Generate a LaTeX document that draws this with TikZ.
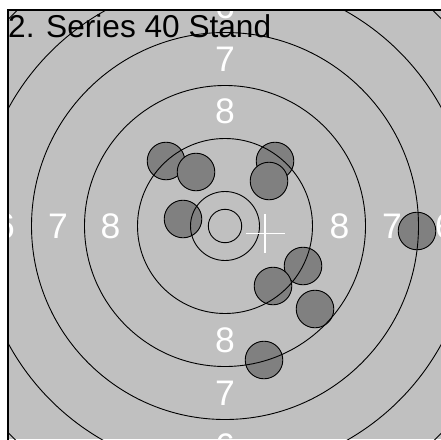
\documentclass[tikz,border=0pt]{standalone}
\usepackage{fontspec}
\setmainfont{Liberation Sans}
\usepackage{tikz}
\usetikzlibrary{calc}
\definecolor{target}{HTML}{C0C0C0}
\definecolor{hole}{HTML}{808080}
\tikzset{
  ring/.style={draw=black, line width=0.9pt},
  shot/.style={draw=black, fill=hole, line width=0.9pt},
  score/.style={font=\fontsize{35.5}{36}\selectfont, text=white, inner sep=0pt},
  heading/.style={font=\fontsize{31.6}{36}\selectfont, inner sep=0pt, anchor=base west},
}
\begin{document}
\begin{tikzpicture}[x=1pt, y=-1pt]
  \useasboundingbox (0,0) rectangle (441,439);
  \fill[target] (8,10) rectangle (441,439);
  \coordinate (c) at (225,226);
  \begin{scope}
    \clip (8,10) rectangle (441,439);
    % ring numbers
    \foreach \r/\n in {114.5/8, 167/7, 220/6}
      { \node[score] (top\n) at ($(c)+(0,-\r)$) {\n};
        \node[score] (bot\n) at ($(c)+(0,\r)$) {\n};
        \node[score] (lft\n) at ($(c)+(-\r,0)$) {\n};
        \node[score] (rgt\n) at ($(c)+(\r,0)$) {\n}; }
    % hits
    \foreach \x/\y in {166/161, 196/172, 275/161, 269/181, 183/219,
                       303/266, 273/286, 315/309, 264/360, 417/231}
      { \draw[shot] (\x,\y) circle[radius=18.8]; }
    \foreach \r in {16.7, 34.5, 87.5, 140.5, 193.5, 246.5, 299.5}
      { \draw[ring] (c) circle[radius=\r]; }
    % mean point of impact
    \coordinate (mean) at (265,233.5);
    \draw[white, line width=1.5pt] ($(mean)+(-19.5,0)$) -- ($(mean)+(19.5,0)$)
                                   ($(mean)+(0,-19.5)$) -- ($(mean)+(0,19.5)$);
  \end{scope}
  \draw[line width=1.5pt] (8,440) -- (8,10) -- (442,10);
  \node[heading] (title) at (8,37.5) {2. Series 40 Stand};
\end{tikzpicture}
\end{document}
